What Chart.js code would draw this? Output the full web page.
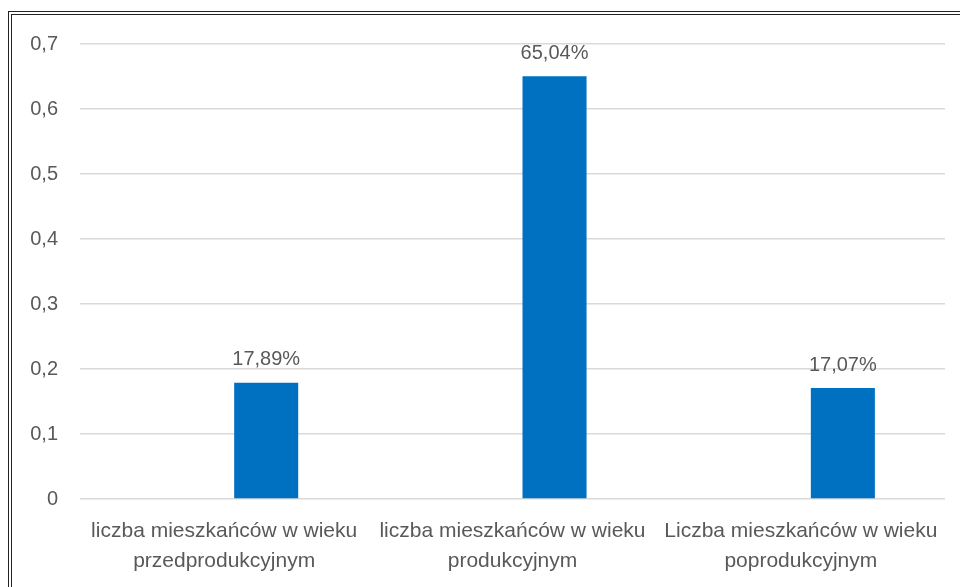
<!DOCTYPE html>
<html>
<head>
<meta charset="utf-8">
<script src="https://cdn.jsdelivr.net/npm/chart.js@4"></script>
<style>
  html, body { margin: 0; padding: 0; background: #fff; overflow: hidden; }
  .frame {
    position: absolute;
    left: 8px;
    top: 11px;
    width: 1000px;
    height: 640px;
    border: 4px double #222;
  }
  .wrap { position: absolute; left: 0; top: 0; width: 960px; height: 587px; }
</style>
</head>
<body>
<div class="frame"></div>
<div class="wrap"><canvas id="chart"></canvas></div>
<script>
// Age groups (labels split into two lines like the original)
const categories = [
  ['liczba mieszkańców w wieku', 'przedprodukcyjnym'],
  ['liczba mieszkańców w wieku', 'produkcyjnym'],
  ['Liczba mieszkańców w wieku', 'poprodukcyjnym'],
];
// Share of residents in each group
const shareValues = [0.1789, 0.6504, 0.1707];
// Empty first series (the original has a blank slot left of each bar)
const emptyValues = [null, null, null];
const yTicks = [0, 0.1, 0.2, 0.3, 0.4, 0.5, 0.6, 0.7];

const TEXT_COLOR = '#595959';
const FONT_FAMILY = '"Liberation Sans", Arial, sans-serif';

/**
 * Draws the percentage above each bar of the second dataset
 */
const barValueLabels = {
  id: 'barValueLabels',
  afterDatasetsDraw(chart) {
    const ctx = chart.ctx;
    const meta = chart.getDatasetMeta(1);
    ctx.save();
    ctx.font = `20px ${FONT_FAMILY}`;
    ctx.fillStyle = TEXT_COLOR;
    ctx.textAlign = 'center';
    ctx.textBaseline = 'bottom';
    meta.data.forEach((bar, i) => {
      const v = shareValues[i];
      const text = (v * 100).toFixed(2).replace('.', ',') + '%';
      ctx.fillText(text, bar.x, bar.y - 13);
    });
    ctx.restore();
  },
};

const ctx = document.getElementById('chart').getContext('2d');

new Chart(ctx, {
  type: 'bar',
  data: {
    labels: categories,
    datasets: [
      {
        label: 'puste',
        data: emptyValues,
        backgroundColor: '#ffffff',
        categoryPercentage: 0.583,
        barPercentage: 0.762,
      },
      {
        label: 'udział',
        data: shareValues,
        backgroundColor: '#0070C0',
        categoryPercentage: 0.583,
        barPercentage: 0.762,
      },
    ],
  },
  options: {
    responsive: true,
    maintainAspectRatio: false,
    animation: false,
    layout: { padding: { top: 44, right: 15, bottom: 0, left: 0 } },
    plugins: {
      legend: { display: false },
      tooltip: { enabled: false },
    },
    scales: {
      x: {
        grid: { display: false },
        border: { display: false },
        ticks: {
          color: TEXT_COLOR,
          font: { family: FONT_FAMILY, size: 21, lineHeight: 1.43 },
          padding: 9,
          maxRotation: 0,
          autoSkip: false,
        },
        afterFit: (scale) => { scale.height = 88; },
      },
      y: {
        min: 0,
        max: 0.7,
        afterBuildTicks: (scale) => {
          scale.ticks = yTicks.map((v) => ({ value: v }));
        },
        grid: { color: '#d9d9d9', lineWidth: 1.5, drawTicks: false },
        border: { display: false },
        ticks: {
          color: TEXT_COLOR,
          font: { family: FONT_FAMILY, size: 20 },
          padding: 22,
          callback: (v) => String(Math.round(v * 10) / 10).replace('.', ','),
        },
        afterFit: (scale) => { scale.width = 80; },
      },
    },
  },
  plugins: [barValueLabels],
});
</script>
</body>
</html>
